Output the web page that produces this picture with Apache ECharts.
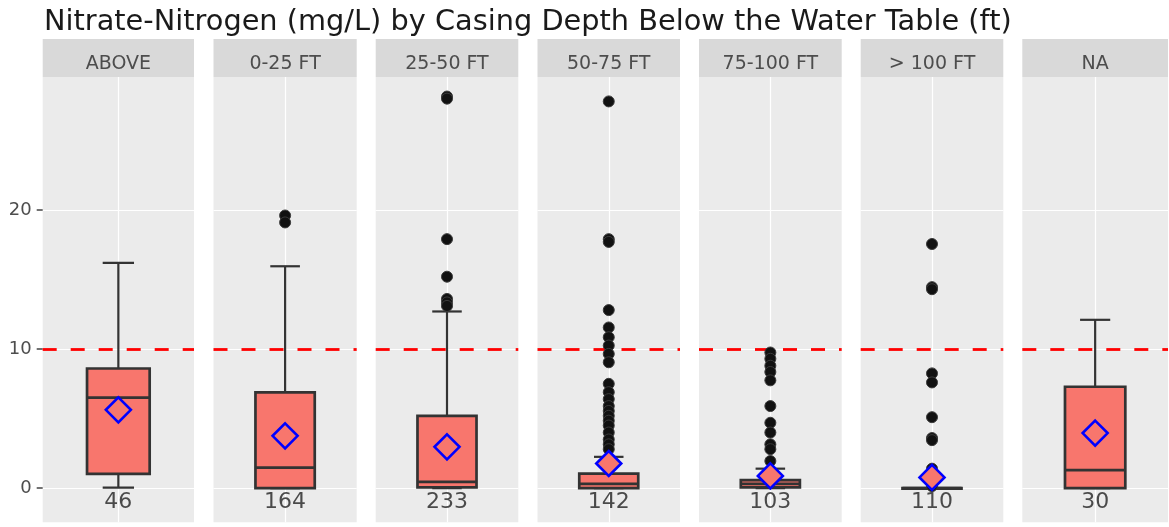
<!DOCTYPE html>
<html>
<head>
<meta charset="utf-8">
<script src="https://cdn.jsdelivr.net/npm/echarts@6/dist/echarts.min.js"></script>
<style>
  html, body { margin: 0; padding: 0; background: #fff; }
  #chart { width: 1169px; height: 527px; }
</style>
</head>
<body>
<div id="chart"></div>
<script>
// facets (casing depth below water table)
var categories = ['ABOVE', '0-25 FT', '25-50 FT', '50-75 FT', '75-100 FT', '> 100 FT', 'NA'];
// [lower whisker, Q1, median, Q3, upper whisker]
var boxStats = [
  [0.04, 1.03, 6.5, 8.6, 16.2],
  [0, 0, 1.48, 6.88, 15.95],
  [0, 0.05, 0.45, 5.2, 12.7],
  [0, 0, 0.3, 1.05, 2.25],
  [0, 0.05, 0.3, 0.58, 1.4],
  [0, 0, 0, 0, 0],
  [0, 0, 1.29, 7.29, 12.1]
];
var means = [5.63, 3.76, 2.97, 1.77, 0.88, 0.77, 3.96];
var counts = [46, 164, 233, 142, 103, 110, 30];
var outliers = [
  [],
  [19.6, 19.1],
  [28.15, 28.0, 17.9, 15.2, 13.6, 13.35, 13.1],
  [27.8, 17.9, 17.7, 12.8, 11.55, 10.85, 10.25, 9.65, 9.05, 7.5, 6.9, 6.4, 5.9, 5.55, 5.2, 4.85, 4.5, 4.0, 3.5, 3.15, 2.8],
  [9.75, 9.3, 8.8, 8.35, 7.75, 5.9, 4.7, 4.0, 3.15, 2.8, 1.95],
  [17.55, 14.45, 14.3, 8.25, 7.6, 5.1, 3.6, 3.45, 1.4, 0.15],
  []
];
var yTicks = [0, 10, 20];
var limitLevel = 10;      // nitrate MCL
var countLabelY = -1;
var yMin = -2.455, yMax = 29.555;

// panel layout
var panelLeft = [42.7, 213.5, 375.7, 537.5, 699, 860.7, 1022.3];
var panelWidth = [151.3, 143.2, 142.6, 142.5, 142.7, 142.6, 145.7];
var panelTop = 77, panelBottom = 4.7;
var FONT = '"DejaVu Sans", Verdana, sans-serif';

var chart = echarts.init(document.getElementById('chart'));

function renderBox(params, api) {
  var x = api.value(0);
  var lo = api.coord([x, api.value(1)]);
  var q1 = api.coord([x, api.value(2)]);
  var md = api.coord([x, api.value(3)]);
  var q3 = api.coord([x, api.value(4)]);
  var hi = api.coord([x, api.value(5)]);
  var band = api.size([1, 0])[0];
  var half = band * 0.207;
  var cap = half / 2;
  var cx = md[0];
  var line = { stroke: '#333333', lineWidth: 2.2 };
  return {
    type: 'group',
    children: [
      { type: 'line', shape: { x1: cx, y1: hi[1], x2: cx, y2: q3[1] }, style: line },
      { type: 'line', shape: { x1: cx, y1: q1[1], x2: cx, y2: lo[1] }, style: line },
      { type: 'line', shape: { x1: cx - cap, y1: hi[1], x2: cx + cap, y2: hi[1] }, style: line },
      { type: 'line', shape: { x1: cx - cap, y1: lo[1], x2: cx + cap, y2: lo[1] }, style: line },
      { type: 'rect', shape: { x: cx - half, y: q3[1], width: half * 2, height: Math.max(q1[1] - q3[1], 0.5) },
        style: { fill: '#F8766D', stroke: '#333333', lineWidth: 2.7 } },
      { type: 'line', shape: { x1: cx - half, y1: md[1], x2: cx + half, y2: md[1] },
        style: { stroke: '#333333', lineWidth: 2.7 } }
    ]
  };
}

var grids = [], xAxes = [], yAxes = [], series = [], graphics = [];

categories.forEach(function (cat, i) {
  grids.push({
    left: panelLeft[i], width: panelWidth[i], top: panelTop, bottom: panelBottom,
    show: true, backgroundColor: '#ebebeb', borderWidth: 0
  });
  xAxes.push({
    type: 'category', gridIndex: i, data: [cat],
    axisLine: { show: false },
    axisLabel: { show: false },
    axisTick: { show: true, alignWithLabel: true, length: 4, lineStyle: { color: '#555', width: 1 } },
    splitLine: { show: false }
  });
  yAxes.push({
    type: 'value', gridIndex: i, min: yMin, max: yMax,
    axisLine: { show: false },
    axisTick: { show: i === 0, customValues: yTicks, length: 6, lineStyle: { color: '#444', width: 1.5 } },
    axisLabel: { show: i === 0, customValues: yTicks, margin: 11, color: '#4d4d4d', fontSize: 18, fontFamily: FONT },
    splitLine: { show: true, lineStyle: { color: '#ffffff', width: 1.2 } }
  });

  series.push({
    type: 'custom', xAxisIndex: i, yAxisIndex: i, z: 3,
    renderItem: renderBox,
    data: [[cat].concat(boxStats[i])],
    markLine: {
      z: 4, silent: true, symbol: 'none', label: { show: false },
      lineStyle: { color: '#ff0000', type: [14, 14], width: 2.8, opacity: 1 },
      data: [{ yAxis: limitLevel }]
    }
  });
  series.push({
    type: 'scatter', xAxisIndex: i, yAxisIndex: i, z: 5,
    symbol: 'circle', symbolSize: 11,
    itemStyle: { color: '#111111', borderColor: '#3a3a3a', borderWidth: 1, opacity: 1 },
    data: outliers[i].map(function (v) { return [cat, v]; })
  });
  series.push({
    type: 'scatter', xAxisIndex: i, yAxisIndex: i, z: 6,
    symbol: 'diamond', symbolSize: [25, 25],
    itemStyle: { color: '#F8766D', borderColor: '#0000ff', borderWidth: 2.6, opacity: 1 },
    data: [[cat, means[i]]]
  });
  series.push({
    type: 'scatter', xAxisIndex: i, yAxisIndex: i, z: 7,
    symbolSize: 0,
    label: {
      show: true, position: 'inside', color: '#222', fontSize: 22, fontFamily: FONT,
      formatter: function () { return String(counts[i]); }
    },
    data: [[cat, countLabelY]],
    markLine: {
      z: 1, silent: true, symbol: 'none', label: { show: false },
      lineStyle: { color: '#ffffff', type: 'solid', width: 1.2 },
      data: [{ xAxis: cat }]
    }
  });

  graphics.push({
    type: 'rect', silent: true,
    shape: { x: panelLeft[i], y: 39, width: panelWidth[i], height: 38 },
    style: { fill: '#d9d9d9' }
  });
  graphics.push({
    type: 'text', silent: true,
    style: {
      text: cat, x: panelLeft[i] + panelWidth[i] / 2, y: 64,
      align: 'center', verticalAlign: 'middle',
      fontSize: 19, fontFamily: FONT, fill: '#4d4d4d'
    }
  });
});

chart.setOption({
  animation: false,
  backgroundColor: '#ffffff',
  title: {
    text: 'Nitrate-Nitrogen (mg/L) by Casing Depth Below the Water Table (ft)',
    left: 44, top: 8, padding: 0,
    textStyle: { fontSize: 28.8, fontWeight: 'normal', color: '#1a1a1a', fontFamily: FONT }
  },
  grid: grids,
  xAxis: xAxes,
  yAxis: yAxes,
  graphic: graphics,
  series: series
});
</script>
</body>
</html>
